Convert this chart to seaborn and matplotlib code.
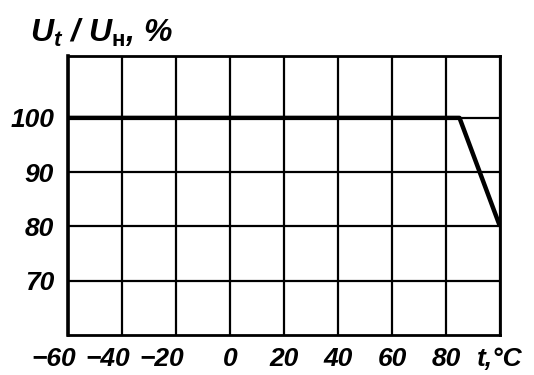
import matplotlib
matplotlib.use("Agg")
import matplotlib.pyplot as plt
import matplotlib.transforms as mtransforms
import pandas as pd
import seaborn as sns

# derating curve U_t/U_н vs temperature
temp_c = [-60, 85, 100]
u_ratio = [100, 100, 80]

x_ticks = [-60, -40, -20, 0, 20, 40, 60, 80, 100]
x_labels = ["−60", "−40", "−20", "0", "20", "40", "60", "80", "t,°C"]
y_ticks = [70, 80, 90, 100]
y_labels = ["70", "80", "90", "100"]

sns.set_theme(style="white")
plt.rcParams["font.family"] = ["Liberation Sans Narrow", "Liberation Sans", "DejaVu Sans"]
plt.rcParams["text.color"] = "black"
plt.rcParams["mathtext.fontset"] = "custom"
plt.rcParams["mathtext.it"] = "Liberation Sans:italic:bold"
plt.rcParams["mathtext.rm"] = "Liberation Sans:bold"

df = pd.DataFrame({"t": temp_c, "u": u_ratio})

fig = plt.figure(figsize=(5.34, 3.75), dpi=100)
ax = fig.add_axes([68 / 534, 1 - 335 / 375, 432 / 534, 279 / 375])

sns.lineplot(data=df, x="t", y="u", ax=ax, color="black", linewidth=3.2,
             solid_joinstyle="round", solid_capstyle="butt", zorder=3)

ax.set_xlim(-60, 100)
ax.set_ylim(60, 111.4)
ax.set_xticks(x_ticks)
ax.set_xticklabels(x_labels, fontsize=19, fontstyle="italic", fontweight="bold")
ax.set_yticks(y_ticks)
ax.set_yticklabels(y_labels, fontsize=19, fontstyle="italic", fontweight="bold")
ax.tick_params(axis="both", length=0, colors="black", labelcolor="black")
ax.tick_params(axis="x", pad=9)
ax.tick_params(axis="y", pad=10)
ax.set_xlabel("")
ax.set_ylabel("")

# negative labels: centre the digits, minus hangs to the left
shift = mtransforms.ScaledTranslation(-14 / 100, 0, fig.dpi_scale_trans)
for lbl in ax.get_xticklabels():
    if lbl.get_text().startswith("−"):
        lbl.set_transform(lbl.get_transform() + shift)

ax.grid(True, color="black", linewidth=1.6)
for sp in ax.spines.values():
    sp.set_visible(True)
    sp.set_color("black")
    sp.set_linewidth(2.0)
ax.spines["left"].set_linewidth(2.6)

fig.text(30 / 534, 1 - 42 / 375, r"$U_t$ / $U_{\mathrm{н}}$, %", fontsize=23,
         fontstyle="italic", fontweight="bold", ha="left", va="baseline",
         color="black")

fig.savefig("out.png", dpi=100, facecolor="white")
